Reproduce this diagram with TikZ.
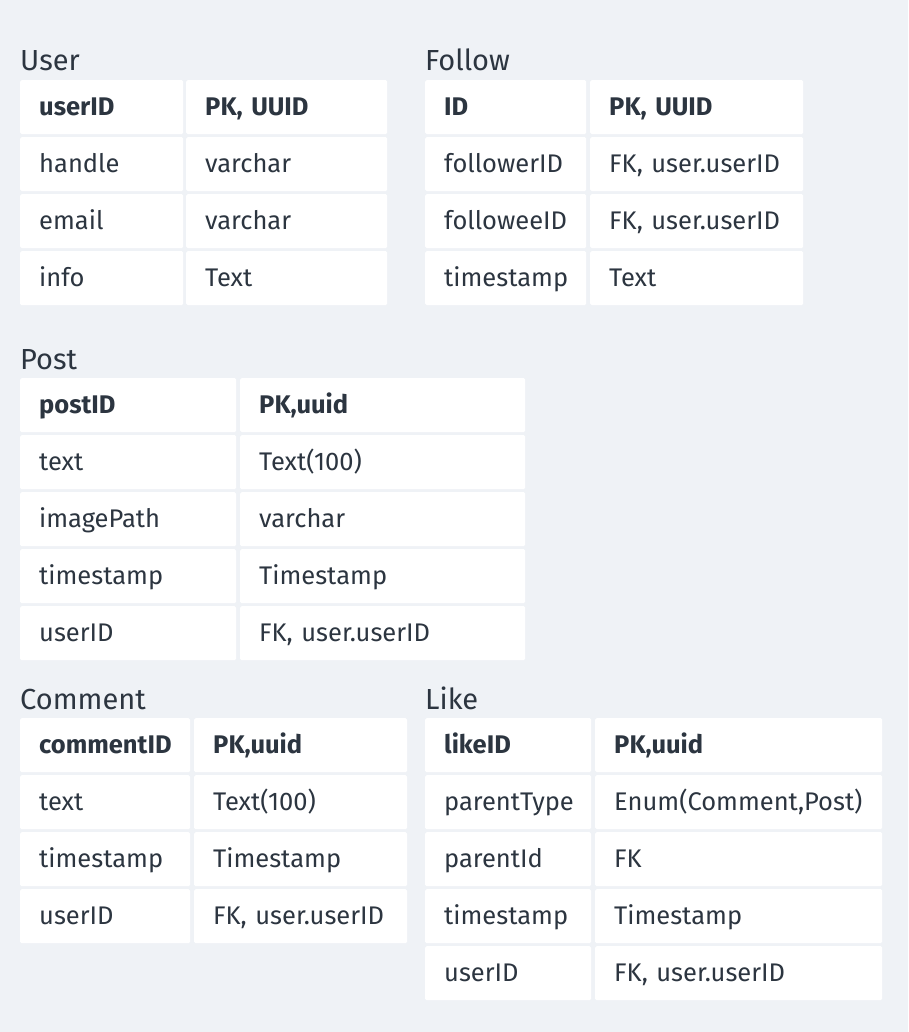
\documentclass[tikz,border=0pt]{standalone}
\usepackage{fontspec}
\setmainfont{Fira Sans}
\usepackage{xcolor}
\usepackage{tikz}
\usetikzlibrary{positioning}

\definecolor{pagebg}{HTML}{EFF2F6}
\definecolor{ink}{HTML}{2C3540}

\begin{document}
\begin{tikzpicture}[
            x=1pt, y=-1pt,
            cell/.style={fill=white, anchor=north west, minimum height=54pt, inner xsep=19pt,
                align=left, text height=17.5pt, text depth=0pt, rounded corners=1.5pt,
                text=ink, font=\fontsize{25.5}{29}\selectfont},
            headcell/.style={cell, font=\fontsize{25.5}{29}\selectfont\bfseries},
            title/.style={anchor=base west, inner sep=0pt, text=ink, font=\fontsize{29}{33}\selectfont},
        ]
        \fill[pagebg] (0,0) rectangle (908,1032);
        \useasboundingbox (0,0) rectangle (908,1032);

        % User
        \node[title] (user) at (20,71) {User};
        \node[headcell, text width=125pt] (user-1-l) at (20,80) {userID};
        \node[headcell, text width=163pt] (user-1-r) at (186,80) {PK, UUID};
        \foreach \l/\r [count=\i from 2] in {handle/varchar, email/varchar, info/Text} {
            \node[cell, text width=125pt] (user-\i-l) at (20,{80+57*(\i-1)}) {\l};
            \node[cell, text width=163pt] (user-\i-r) at (186,{80+57*(\i-1)}) {\r};
        }

        % Follow
        \node[title] (follow) at (425,71) {Follow};
        \node[headcell, text width=123pt] (follow-1-l) at (425,80) {ID};
        \node[headcell, text width=175pt] (follow-1-r) at (590,80) {PK, UUID};
        \foreach \l/\r [count=\i from 2] in {followerID/{FK, user.userID}, followeeID/{FK, user.userID}, timestamp/Text} {
            \node[cell, text width=123pt] (follow-\i-l) at (425,{80+57*(\i-1)}) {\l};
            \node[cell, text width=175pt] (follow-\i-r) at (590,{80+57*(\i-1)}) {\r};
        }

        % Post
        \node[title] (post) at (20,369) {Post};
        \node[headcell, text width=178pt] (post-1-l) at (20,378) {postID};
        \node[headcell, text width=247pt] (post-1-r) at (240,378) {PK,uuid};
        \foreach \l/\r [count=\i from 2] in {text/Text(100), imagePath/varchar, timestamp/Timestamp, userID/{FK, user.userID}} {
            \node[cell, text width=178pt] (post-\i-l) at (20,{378+57*(\i-1)}) {\l};
            \node[cell, text width=247pt] (post-\i-r) at (240,{378+57*(\i-1)}) {\r};
        }

        % Comment
        \node[title] (comment) at (20,709) {Comment};
        \node[headcell, text width=132pt] (comment-1-l) at (20,718) {commentID};
        \node[headcell, text width=175pt] (comment-1-r) at (194,718) {PK,uuid};
        \foreach \l/\r [count=\i from 2] in {text/Text(100), timestamp/Timestamp, userID/{FK, user.userID}} {
            \node[cell, text width=132pt] (comment-\i-l) at (20,{718+57*(\i-1)}) {\l};
            \node[cell, text width=175pt] (comment-\i-r) at (194,{718+57*(\i-1)}) {\r};
        }

        % Like
        \node[title] (like) at (425,709) {Like};
        \node[headcell, text width=128pt] (like-1-l) at (425,718) {likeID};
        \node[headcell, text width=249pt] (like-1-r) at (595,718) {PK,uuid};
        \foreach \l/\r [count=\i from 2] in {parentType/{Enum(Comment,Post)}, parentId/FK, timestamp/Timestamp, userID/{FK, user.userID}} {
            \node[cell, text width=128pt] (like-\i-l) at (425,{718+57*(\i-1)}) {\l};
            \node[cell, text width=249pt] (like-\i-r) at (595,{718+57*(\i-1)}) {\r};
        }
\end{tikzpicture}
\end{document}
